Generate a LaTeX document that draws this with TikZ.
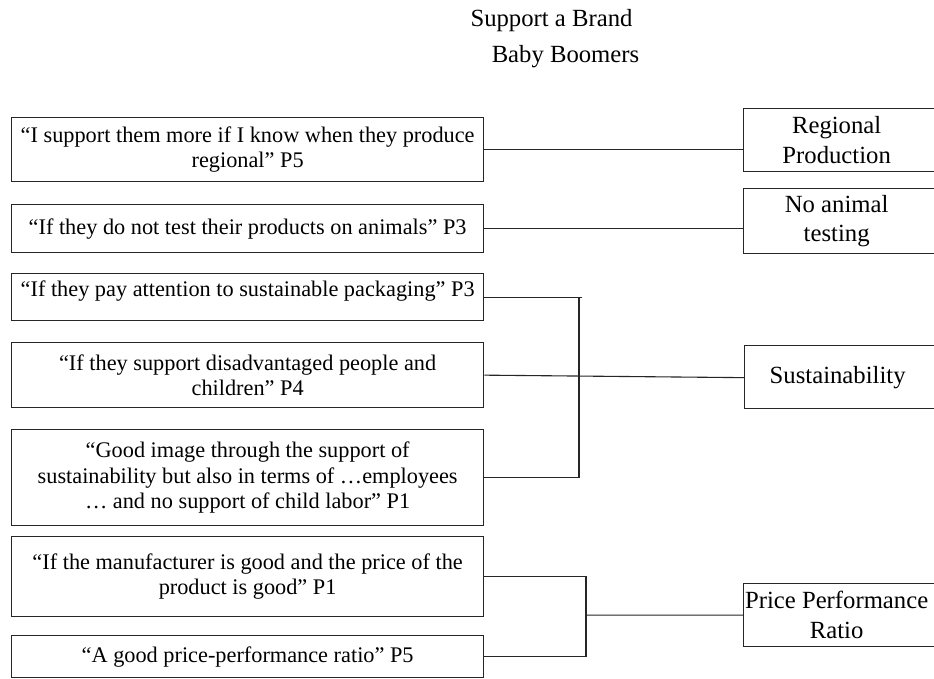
\documentclass[tikz,border=0pt]{standalone}
\usepackage{fontspec}
\setmainfont{Liberation Serif}
\usetikzlibrary{calc}

% right-hand category labels: text centred in the visible part of the box
\newcommand\cattext[1]{\parbox{186pt}{\centering\fontsize{24.7}{29.5}\selectfont #1}\hspace*{40pt}}

\begin{document}
\begin{tikzpicture}[x=1pt,y=-1pt,
  quotebox/.style={draw=black!85, line width=1.3pt, inner sep=0pt, align=center,
    minimum width=472pt, anchor=north west, text=black,
    font=\fontsize{22.3}{25.5}\selectfont},
  catbox/.style={draw=black!85, line width=1.3pt, inner sep=0pt, anchor=north west,
    text=black},
  link/.style={draw=black!85, line width=1.1pt},
  heading/.style={font=\fontsize{24.7}{29}\selectfont, text=black, anchor=base, inner sep=0pt}]

\useasboundingbox (0,0) rectangle (934,679);
\clip (0,0) rectangle (934,679);
\fill[white] (0,0) rectangle (934,679);

% heading
\node[heading] (t1) at (551.5,27) {Support a Brand};
\node[heading] (t2) at (565.5,63) {Baby Boomers};

% quotations
\node[quotebox, minimum height=64pt] (b1) at (11,117)
  {“I support them more if I know when they produce\\regional” P5};
\node[quotebox, minimum height=48pt] (b2) at (11,204)
  {“If they do not test their products on animals” P3};
\node[quotebox, minimum height=47pt, text height=23pt, text depth=24pt] (b3) at (11,273)
  {“If they pay attention to sustainable packaging” P3};
\node[quotebox, minimum height=65pt] (b4) at (11,342)
  {“If they support disadvantaged people and\\children” P4};
\node[quotebox, minimum height=96pt] (b5) at (11,429)
  {“Good image through the support of\\sustainability but also in terms of …employees\\… and no support of child labor” P1};
\node[quotebox, minimum height=80pt] (b6) at (11,536)
  {“If the manufacturer is good and the price of the\\product is good” P1};
\node[quotebox, minimum height=42pt] (b7) at (11,635)
  {“A good price-performance ratio” P5};

% categories
\node[catbox, minimum height=63pt] (r1) at (743,108) {\cattext{Regional\\Production}};
\node[catbox, minimum height=65pt] (r2) at (743,188) {\cattext{No animal\\testing}};
\node[catbox, minimum height=63pt] (r3) at (744,345) {\cattext{Sustainability}};
\node[catbox, minimum height=63pt] (r4) at (743,583) {\cattext{Price Performance\\Ratio}};

% junction columns
\coordinate (sj) at (579,0);
\coordinate (pj) at (586,0);

% connectors
\draw[link] (b1.east) -- (b1.east -| r1.west);
\draw[link] (b2.east) -- (b2.east -| r2.west);
\draw[link] (b3.east) -- ($(b3.east -| sj)+(3,0)$);
\draw[link] (b3.east -| sj) -- (b5.east -| sj) -- (b5.east);
\draw[link] (b4.east) -- ($(r3.west)+(0,0.5)$);
\draw[link] (b6.east) -- (b6.east -| pj) -- (b7.east -| pj) -- (b7.east);
\draw[link] ($(b6.east -| pj)!0.48!(b7.east -| pj)$) -- (r4.west);

\end{tikzpicture}
\end{document}
